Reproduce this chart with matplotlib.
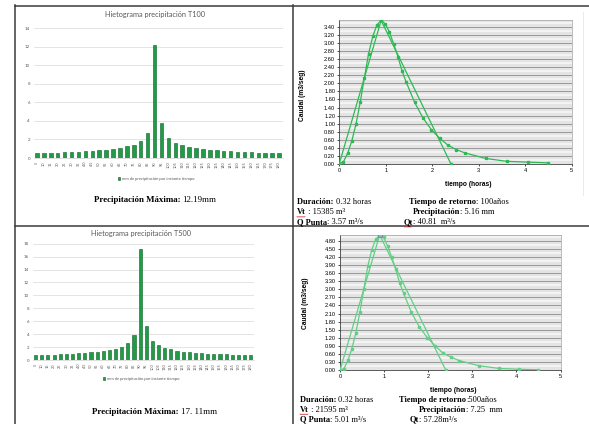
import matplotlib
matplotlib.use("Agg")
import matplotlib.pyplot as plt
import numpy as np

# ---------------- data ----------------
minutos = ['5', '10', '15', '20', '25', '30', '35', '40', '45', '50', '55', '60',
           '65', '70', '75', '80', '85', '90', '95', '100', '105', '110', '115', '120',
           '125', '130', '135', '140', '145', '150', '155', '160', '165', '170', '175', '180']

precip_t100 = [0.50, 0.52, 0.55, 0.58, 0.62, 0.65, 0.68, 0.72, 0.77, 0.82, 0.90, 0.98,
               1.10, 1.25, 1.45, 1.85, 2.70, 12.19, 3.75, 2.15, 1.65, 1.38, 1.17, 1.03,
               0.93, 0.87, 0.82, 0.77, 0.72, 0.68, 0.64, 0.61, 0.58, 0.56, 0.53, 0.51]

precip_t500 = [0.70, 0.75, 0.78, 0.80, 0.87, 0.92, 0.97, 1.02, 1.10, 1.17, 1.27, 1.38,
               1.55, 1.75, 2.05, 2.60, 3.80, 17.11, 5.25, 3.00, 2.35, 1.93, 1.65, 1.45,
               1.30, 1.20, 1.12, 1.05, 1.00, 0.95, 0.90, 0.86, 0.82, 0.78, 0.75, 0.72]

tiempo_h = [0, 0.09, 0.18, 0.27, 0.36, 0.45, 0.54, 0.63, 0.72, 0.81, 0.90, 0.99, 1.08, 1.17,
            1.26, 1.35, 1.44, 1.62, 1.80, 1.98, 2.16, 2.34, 2.52, 2.70, 3.15, 3.60, 4.05, 4.50]
caudal_t100 = [0, 0.05, 0.26, 0.57, 0.99, 1.53, 2.14, 2.74, 3.17, 3.46, 3.57, 3.48, 3.28, 2.98,
               2.67, 2.31, 2.03, 1.53, 1.14, 0.85, 0.63, 0.46, 0.35, 0.27, 0.13, 0.06, 0.04, 0.02]
caudal_t500 = [0, 0.06, 0.37, 0.80, 1.39, 2.14, 3.00, 3.85, 4.46, 4.85, 5.01, 4.92, 4.60, 4.20,
               3.75, 3.25, 2.86, 2.14, 1.60, 1.21, 0.90, 0.63, 0.49, 0.36, 0.17, 0.07, 0.04, 0.02]

tri_t = [0, 0.90, 2.40]
tri_q100 = [0, 3.57, 0]
tri_q500 = [0, 5.01, 0]

# ---------------- figure ----------------
W, H = 589, 424
fig = plt.figure(figsize=(W / 100, H / 100), dpi=100)
fig.patch.set_facecolor('white')

bg = fig.add_axes([0, 0, 1, 1])
bg.set_xlim(0, W)
bg.set_ylim(H, 0)
bg.axis('off')
bg.set_zorder(-1)


def rect(l, r, t, b):
    return [l / W, 1 - b / H, (r - l) / W, (b - t) / H]


# table lines
lc = '#3a3a3a'
bg.plot([15, 15], [5, 424], color=lc, lw=1.1)
bg.plot([293, 293], [5, 424], color=lc, lw=1.1)
bg.plot([15, 589], [5.5, 5.5], color=lc, lw=1.1)
bg.plot([15, 589], [226, 226], color=lc, lw=1.1)

BAR = '#1f9c45'
BAR_E = '#0c5e27'
CAL = ['Lato', 'DejaVu Sans']
SER = ['Liberation Serif', 'DejaVu Serif']
ARI = ['Liberation Sans', 'DejaVu Sans']


def hyeto(box, vals, ymax, title, tpos, lpos):
    ax = fig.add_axes(rect(*box))
    x = np.arange(len(minutos))
    bars = ax.bar(x, vals, width=0.5, color=BAR, edgecolor=BAR_E, linewidth=0.4,
                  label='mm de precipitación por instante tiempo', zorder=3)
    ax.set_xlim(-0.5, len(minutos) - 0.5)
    ax.set_ylim(0, ymax)
    ax.set_yticks(np.arange(0, ymax + 0.1, 2))
    ax.set_yticklabels([str(int(v)) for v in np.arange(0, ymax + 0.1, 2)],
                       fontsize=3.2, color='#595959', family=CAL)
    ax.set_xticks(x)
    ax.set_xticklabels(minutos, rotation=90, fontsize=2.8, color='#595959', family=CAL)
    ax.tick_params(length=0, pad=2.5)
    ax.grid(axis='y', color='#d9d9d9', lw=0.5, zorder=0)
    for s in ['top', 'right', 'left']:
        ax.spines[s].set_visible(False)
    ax.spines['bottom'].set_color('#d0d0d0')
    ax.spines['bottom'].set_linewidth(0.5)
    ax.set_facecolor('none')
    bg.text(tpos[0], tpos[1], title, ha='center', va='center', fontsize=5.3,
            color='#595959', family=CAL)
    leg = ax.legend(handles=[bars], loc='center',
                    bbox_to_anchor=(lpos[0] / W, 1 - lpos[1] / H),
                    bbox_transform=fig.transFigure, frameon=False,
                    prop={'family': CAL, 'size': 3.0}, handlelength=0.6,
                    handleheight=0.6, handletextpad=0.3)
    for t in leg.get_texts():
        t.set_color('#595959')
    return ax


hyeto((33.5, 282.5, 28, 158), precip_t100, 14, 'Hietograma precipitación T100',
      (155, 15), (156, 179))
hyeto((32.6, 253.8, 243.7, 360), precip_t500, 18, 'Hietograma precipitación T500',
      (141, 233.5), (141, 379))

renderer = fig.canvas.get_renderer()


def runs(x, y, parts, size=6.2, ha='left'):
    objs = []
    for s, w in parts:
        t = bg.text(0, y, s, fontsize=size, family=SER, weight=w, va='center', ha='left')
        objs.append(t)
    widths = [t.get_window_extent(renderer).width for t in objs]
    total = sum(widths)
    cur = x - total / 2 if ha == 'center' else x
    for t, w in zip(objs, widths):
        t.set_x(cur)
        cur += w


runs(155, 200, [('Precipitación Máxima: ', 'bold'), ('12.19mm', 'normal')], size=6.4, ha='center')
runs(155, 411.5, [('Precipitación Máxima: ', 'bold'), ('17. 11mm', 'normal')], size=6.4, ha='center')


def hydro(box, t, q, tq, ymax, ystep, col, ms, peakcol, xlab_pos, ylab_pos):
    ax = fig.add_axes(rect(*box))
    ax.set_facecolor('#e4e4e4')
    ax.plot(tri_t, tq, color=col, lw=0.9, marker='s', ms=ms, zorder=3)
    ax.plot(t, q, color=col, lw=0.9, marker='s', ms=ms, zorder=3)
    if peakcol:
        ax.plot([tri_t[1]], [tq[1]], marker='s', ms=ms + 1.3, color=peakcol,
                mec='#4a7f95', mew=0.4, zorder=4)
    ax.set_xlim(0, 5)
    ax.set_ylim(0, ymax)
    ticks = np.arange(0, ymax - 1e-6, ystep)
    ax.set_yticks(ticks)
    ax.set_yticklabels(['%.2f' % v for v in ticks], fontsize=4.1, family=ARI)
    ax.set_yticks(ticks + ystep / 2, minor=True)
    ax.set_xticks(range(6))
    ax.set_xticklabels([str(i) for i in range(6)], fontsize=4.1, family=ARI)
    ax.grid(which='major', axis='y', color='#8c8c8c', lw=0.6, zorder=1)
    ax.grid(which='minor', axis='y', color='#f7f7f7', lw=1.2, zorder=1)
    ax.tick_params(which='major', length=1.5, width=0.5, pad=1.5)
    ax.tick_params(which='minor', length=0)
    for s in ['top', 'right']:
        ax.spines[s].set_color('#a0a0a0')
        ax.spines[s].set_linewidth(0.5)
    for s in ['left', 'bottom']:
        ax.spines[s].set_color('#404040')
        ax.spines[s].set_linewidth(0.6)
    bg.text(xlab_pos[0], xlab_pos[1], 'tiempo (horas)', ha='center', va='center',
            fontsize=4.8, weight='bold', family=ARI)
    bg.text(ylab_pos[0], ylab_pos[1], 'Caudal (m3/seg)', ha='center', va='center',
            fontsize=4.8, weight='bold', family=ARI, rotation=90)
    return ax


hydro((339.3, 571.7, 20, 163.7), tiempo_h, caudal_t100, tri_q100, 3.58, 0.2,
      '#2dba55', 2.0, None, (468, 184), (303, 95))
hydro((340, 560.5, 234.7, 370.3), tiempo_h, caudal_t500, tri_q500, 5.02, 0.3,
      '#63cf86', 1.6, '#8fb3bf', (453, 390), (305.5, 303))

# light chart-area border for top hydrograph
bg.plot([583, 583], [12, 195], color='#e6e6e6', lw=0.6)

# texts under hydrographs
S = 6.0
runs(297, 202, [('Duración: ', 'bold'), ('0.32 horas', 'normal')], size=S)
runs(297, 212.5, [('Vt', 'bold'), (' : 15385 m³', 'normal')], size=S)
runs(297, 222.5, [('Q Punta', 'bold'), (': 3.57 m³/s', 'normal')], size=S)
runs(409, 202, [('Tiempo de retorno', 'bold'), (': 100años', 'normal')], size=S)
runs(413, 212.5, [('Precipitación', 'bold'), (': 5.16 mm', 'normal')], size=S)
runs(404, 222.5, [('Qt', 'bold'), (': 40.81  m³/s', 'normal')], size=S)

runs(300, 400, [('Duración: ', 'bold'), ('0.32 horas', 'normal')], size=S)
runs(300, 410, [('Vt', 'bold'), (' : 21595 m³', 'normal')], size=S)
runs(300, 419.5, [('Q Punta', 'bold'), (': 5.01 m³/s', 'normal')], size=S)
runs(399, 400, [('Tiempo de retorno', 'bold'), (':500años', 'normal')], size=S)
runs(419, 410, [('Precipitación', 'bold'), (': 7.25  mm', 'normal')], size=S)
runs(410, 419.5, [('Qt', 'bold'), (': 57.28m³/s', 'normal')], size=S)

# red spell-check squiggles under Vt / Qt
for (x0, y0) in [(297, 216.5), (404, 226.5), (300, 414)]:
    xs = np.linspace(x0, x0 + 8, 9)
    bg.plot(xs, y0 + 0.7 * np.array([0, 1, 0, 1, 0, 1, 0, 1, 0]), color='#d03030', lw=0.5)

fig.savefig('out.png', dpi=100, facecolor='white')
